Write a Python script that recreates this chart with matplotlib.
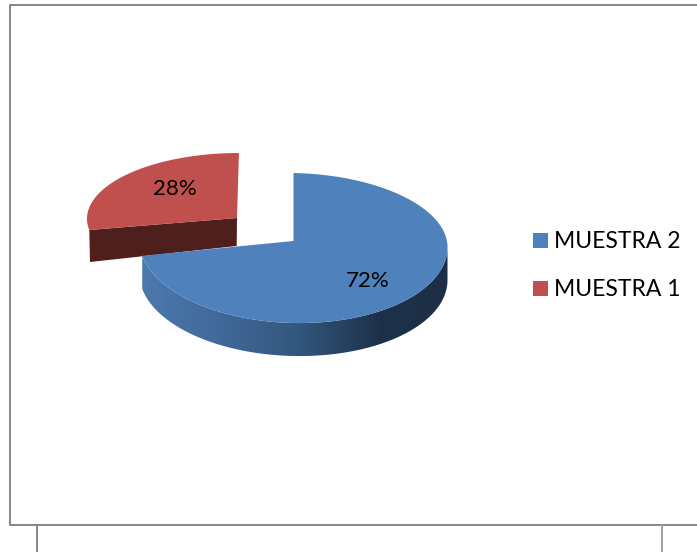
import matplotlib
matplotlib.use('Agg')
import matplotlib.pyplot as plt
from matplotlib.patches import Polygon, Rectangle
from matplotlib.colors import LinearSegmentedColormap
import numpy as np

labels = ['MUESTRA 2', 'MUESTRA 1']
shares = [72, 28]
colors = ['#4f81bd', '#c0504d']
W, H = 697, 552


def arc(a0, a1, apex, rx, ry_top, ry_bot, dy=0, tilt=0, shear=0, n=200):
    # angles in degrees, clockwise from twelve o'clock
    t = np.radians(np.linspace(a0, a1, n))
    c = -np.cos(t)
    dx = rx * np.sin(t)
    up = c * np.where(c < 0, ry_top, ry_bot)
    x = apex[0] + dx - shear * up
    y = apex[1] + dy + up + tilt * dx
    return np.column_stack([x, y])


fig = plt.figure(figsize=(W / 100, H / 100), dpi=100)
ax = fig.add_axes([0, 0, 1, 1])
ax.set_xlim(0, W)
ax.set_ylim(H, 0)
ax.axis('off')

# frame and the table lines under it, no right side visible
ax.plot([W, 9.5, 9.5, W], [4.5, 4.5, 524.5, 524.5], color='#868686', lw=1.4)
ax.plot([36.5, 36.5], [525, H], color='#868686', lw=1.4)
ax.plot([661.5, 661.5], [525, H], color='#a0a0a0', lw=1.4)

split = shares[0] / sum(shares) * 360
depth = 33

# red slice, pulled out
red_apex = (237, 218)
red = arc(split, 360, red_apex, 150, 65, 64, shear=0.03)
side = np.array([red[0], red_apex, (236.7, 246), (90, 262)])
ax.add_patch(Polygon(side, fc='#4f1f1d', ec='none', zorder=2))
ax.add_patch(Polygon(np.vstack([[red_apex], red]), fc=colors[1], ec='none', zorder=3))

# blue pie
blue_apex = (293.5, 241)
shape = dict(rx=154, ry_top=71, ry_bot=79, dy=3, tilt=0.02, shear=0.0)
blue = arc(0, split, blue_apex, **shape)
front = arc(90, split, blue_apex, **shape)
wall = np.vstack([front, front[::-1] + [0, depth]])
grad = LinearSegmentedColormap.from_list('wall', [
    (0, '#4c79ae'), (0.25, '#42699a'), (0.5, '#34587f'),
    (0.78, '#1d3149'), (1, '#1c2f47')])
im = ax.imshow(np.linspace(0, 1, 256)[None, :], cmap=grad, aspect='auto',
               extent=(142, 448, H, 0), zorder=4)
wall_patch = Polygon(wall, fc='none', ec='none', transform=ax.transData)
ax.add_patch(wall_patch)
im.set_clip_path(wall_patch)
ax.set_xlim(0, W)
ax.set_ylim(H, 0)
ax.add_patch(Polygon(np.vstack([[blue_apex], blue]), fc=colors[0], ec='none', zorder=5))

font = ['Lato', 'DejaVu Sans']
ax.text(367.5, 281, f'{shares[0]}%', ha='center', va='center', fontsize=16,
        family=font, color='black', zorder=6)
ax.text(175, 189, f'{shares[1]}%', ha='center', va='center', fontsize=16,
        family=font, color='black', zorder=6)

# legend
for lab, col, y in zip(labels, colors, [240, 288]):
    ax.add_patch(Rectangle((533, y - 7.5), 15, 15, fc=col, ec='none', zorder=6))
    ax.text(554, y + 1.5, lab, ha='left', va='center', fontsize=16.5, family=font,
            color='black', zorder=6)

fig.savefig('out.png', dpi=100)
